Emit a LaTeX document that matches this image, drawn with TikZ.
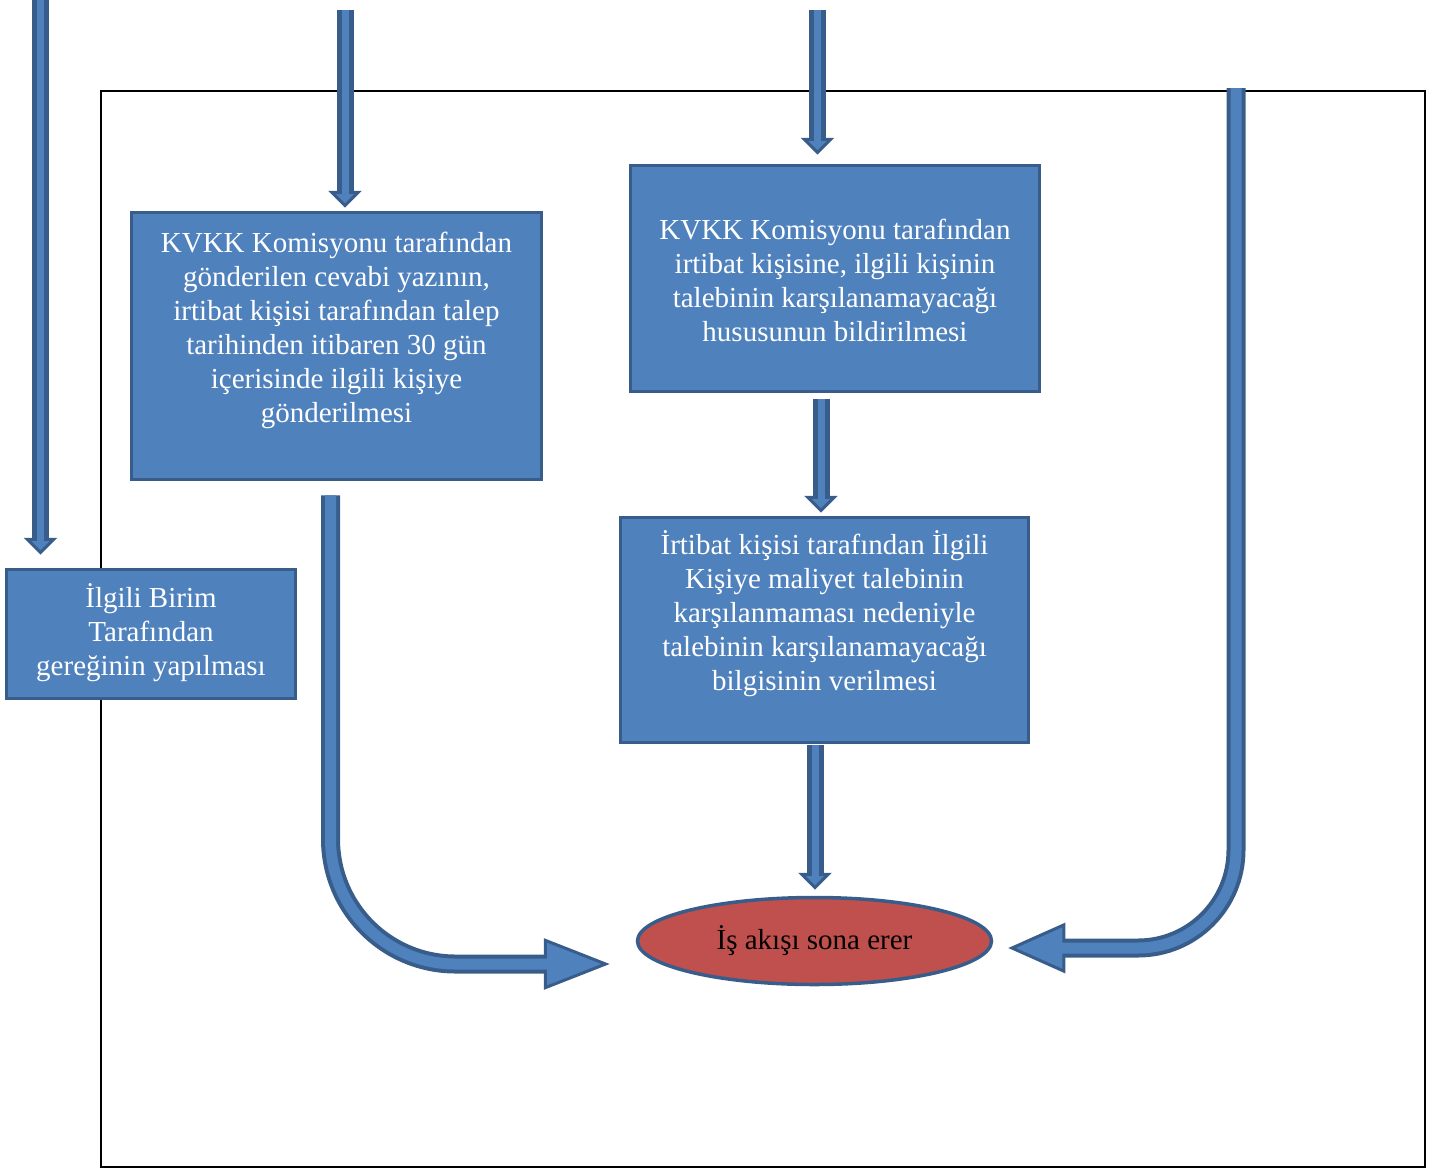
\documentclass[tikz,border=0pt]{standalone}
\usepackage{fontspec}
\setmainfont{Liberation Serif}
\usetikzlibrary{arrows.meta,shapes.geometric}
\definecolor{ablue}{RGB}{79,129,189}
\definecolor{adark}{RGB}{56,93,138}
\definecolor{ered}{RGB}{192,80,77}
\newcommand\boxfont{\fontsize{29}{34}\selectfont}
\tikzset{
    box/.style={draw=adark, line width=3.5pt, fill=ablue, inner sep=0pt},
    boxtext/.style={text=white, font=\boxfont, align=center, inner sep=0pt},
    flowline/.style 2 args={draw=adark,
        postaction={draw=ablue, line width=#2, -, shorten >=#1}},
    smallhead/.style={line width=17pt,
        -{Triangle[width=33pt,length=17pt,line width=3pt,fill=ablue,color=adark]}},
    lefthead/.style={line width=19pt,
        -{Triangle[width=51pt,length=66pt,line width=3pt,fill=ablue,color=adark]}},
    righthead/.style={line width=19pt,
        -{Triangle[width=50pt,length=57pt,line width=3pt,fill=ablue,color=adark]}},
}
\begin{document}
\begin{tikzpicture}[x=1pt,y=-1pt]
    \useasboundingbox (0,0) rectangle (1432,1171);
    % frame
    \draw[line width=2pt] (101,91) rectangle (1425,1167);

    % boxes
    \node[box, minimum width=410pt, minimum height=267pt] (cevap) at (336.5,346) {};
    \node[boxtext] (cevap-t) at (336.5,330) {KVKK Komisyonu tarafından\\
        gönderilen cevabi yazının,\\ irtibat kişisi tarafından talep\\
        tarihinden itibaren 30 gün\\ içerisinde ilgili kişiye\\ gönderilmesi};
    \node[box, minimum width=409pt, minimum height=226pt] (bildirim) at (835,278.5) {};
    \node[boxtext] (bildirim-t) at (835,280) {KVKK Komisyonu tarafından\\
        irtibat kişisine, ilgili kişinin\\ talebinin karşılanamayacağı\\
        hususunun bildirilmesi};
    \node[box, minimum width=408pt, minimum height=225pt] (maliyet) at (824.5,630) {};
    \node[boxtext] (maliyet-t) at (824.5,614) {İrtibat kişisi tarafından İlgili\\
        Kişiye maliyet talebinin\\ karşılanmaması nedeniyle\\
        talebinin karşılanamayacağı\\ bilgisinin verilmesi};
    \node[box, minimum width=289pt, minimum height=129pt] (birim) at (151,634) {};
    \node[boxtext] (birim-t) at (151,633) {İlgili Birim\\ Tarafından\\ gereğinin yapılması};
    \node[ellipse, draw=adark, line width=3.5pt, fill=ered, inner sep=0pt,
        minimum width=354pt, minimum height=87pt, font=\boxfont] (son) at (814.5,941)
        {İş akışı sona erer};

    % arrows
    \coordinate (top1) at (40.5,0);
    \coordinate (top2) at (345,10);
    \coordinate (top3) at (817.5,10);
    \coordinate (top4) at (1236,88);
    \draw[flowline={9pt}{7pt}, smallhead] (top1) -- ([yshift=13pt]birim.north -| top1);
    \draw[flowline={9pt}{7pt}, smallhead] (top2) -- ([yshift=3pt]cevap.north -| top2);
    \draw[flowline={9pt}{7pt}, smallhead] (top3) -- ([yshift=9pt]bildirim.north -| top3);
    \draw[flowline={9pt}{7pt}, smallhead] ([xshift=-14pt,yshift=-6pt]bildirim.south)
        -- ([xshift=-3.5pt,yshift=3pt]maliyet.north);
    \draw[flowline={9pt}{7pt}, smallhead] ([xshift=-9.5pt,yshift=-1pt]maliyet.south)
        -- ([xshift=0.5pt,yshift=6pt]son.north);
    \draw[flowline={50pt}{11pt}, lefthead, rounded corners=125pt]
        ([xshift=-6pt,yshift=-14pt]cevap.south) |- ([xshift=-26pt,yshift=-23pt]son.west);
    \draw[flowline={45pt}{11pt}, righthead, rounded corners=98pt]
        (top4) |- ([xshift=15pt,yshift=-7pt]son.east);
\end{tikzpicture}
\end{document}
